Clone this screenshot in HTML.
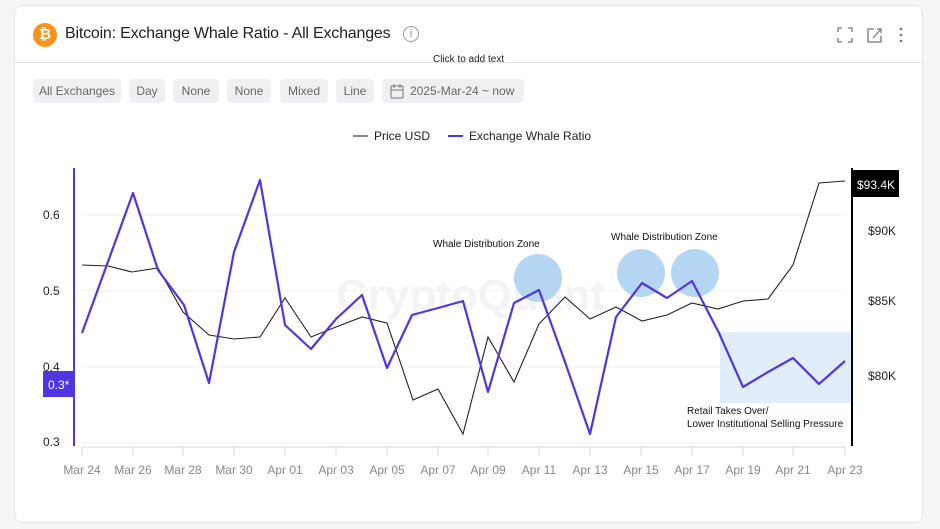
<!DOCTYPE html>
<html><head><meta charset="utf-8"><style>
body{margin:0;background:#f5f5f6;font-family:"Liberation Sans",sans-serif;}
.card{position:absolute;left:14px;top:5px;width:907px;height:516px;background:#fff;border:1px solid #e4e4e8;border-radius:8px;}
.btn{position:absolute;top:79px;height:24px;background:#f0f0f2;border-radius:4px;font-size:12px;color:#666;line-height:24px;text-align:center}
</style></head><body>
<div class="card"></div>
<div style="position:absolute;left:33px;top:23px;width:24px;height:24px;border-radius:50%;background:#f7931a;color:#fff;font-weight:bold;font-size:15px;text-align:center;line-height:24px">₿</div>
<div style="position:absolute;left:65px;top:25px;font-size:16px;color:#222;font-weight:500;letter-spacing:-0.2px">Bitcoin: Exchange Whale Ratio - All Exchanges</div>
<div style="position:absolute;left:403px;top:26px;width:14px;height:14px;border:1px solid #999;border-radius:50%;font-size:11px;color:#888;text-align:center;line-height:14px">i</div>
<div style="position:absolute;left:433px;top:54px;font-size:10px;color:#222">Click to add text</div>
<div style="position:absolute;left:15px;top:62px;width:906px;height:1px;background:#e4e4e8"></div>
<svg style="position:absolute;left:836px;top:26px" width="75" height="18"><path d="M2 6V2h4M12 2h4v4M16 12v4h-4M6 16H2v-4" stroke="#777" fill="none" stroke-width="1.3"/><path d="M38 3h-6v13h13v-6M37 12l8-9M41 3h4v4" stroke="#777" fill="none" stroke-width="1.3"/><circle cx="65" cy="3" r="1.3" fill="#777"/><circle cx="65" cy="9" r="1.3" fill="#777"/><circle cx="65" cy="15" r="1.3" fill="#777"/></svg>
<div class="btn" style="left:33px;width:88px">All Exchanges</div>
<div class="btn" style="left:129px;width:36px">Day</div>
<div class="btn" style="left:173px;width:46px">None</div>
<div class="btn" style="left:227px;width:44px">None</div>
<div class="btn" style="left:280px;width:48px">Mixed</div>
<div class="btn" style="left:336px;width:38px">Line</div>
<div class="btn" style="left:382px;width:142px;text-align:left"><span style="margin-left:28px">2025-Mar-24 ~ now</span></div>
<svg style="position:absolute;left:390px;top:83px" width="14" height="16"><rect x="1" y="3" width="12" height="12" rx="1" stroke="#777" fill="none"/><path d="M1 7h12M4 1v4M10 1v4" stroke="#777"/></svg>
<svg style="position:absolute;left:0;top:0" width="940" height="529" font-family="Liberation Sans, sans-serif">
<line x1="353" y1="136" x2="368" y2="136" stroke="#888" stroke-width="2"/><text x="374" y="140" font-size="12" fill="#222">Price USD</text>
<line x1="448" y1="136" x2="463" y2="136" stroke="#4f35e3" stroke-width="2"/><text x="469" y="140" font-size="12" fill="#222">Exchange Whale Ratio</text>
<g stroke="#f0f0f2"><line x1="82" y1="215" x2="845" y2="215"/><line x1="82" y1="291" x2="845" y2="291"/><line x1="82" y1="367" x2="845" y2="367"/><line x1="82" y1="443" x2="845" y2="443"/></g>
<text x="336" y="310" font-size="44" fill="#f3f3f6" font-weight="bold">CryptoQuant</text>
<rect x="720" y="332" width="132" height="71" fill="#e1edfb"/>
<g fill="#b5d6f3"><circle cx="538" cy="278" r="24"/><circle cx="641" cy="273" r="24"/><circle cx="695" cy="273" r="24"/></g>
<g font-size="10" fill="#111"><text x="433" y="247">Whale Distribution Zone</text><text x="611" y="240">Whale Distribution Zone</text><text x="687" y="414">Retail Takes Over/</text><text x="687" y="427">Lower Institutional Selling Pressure</text></g>
<polyline fill="none" stroke="#222" stroke-width="1.1" points="82,265 108,266 132,272 158,268 183,312 209,335 234,339 260,337 285,298 311,337 336,327 362,317 387,323 413,400 438,389 463,434 488,337 514,382 539,324 565,297 590,319 616,307 642,321 667,315 692,303 718,309 743,301 768,299 793,265 819,183 845,181"/>
<polyline fill="none" stroke="#4f35e3" stroke-width="2.2" stroke-linejoin="round" points="82,333 133,193 158,270 184,305 209,383 234,252 260,180 285,325 311,349 336,319 362,295 387,368 412,315 438,308 463,301 488,392 514,303 539,290 565,362 590,434 616,317 642,283 667,298 692,281 719,333 743,387 768,372 793,358 819,384 845,361"/>
<line x1="74" y1="168" x2="74" y2="446" stroke="#4f35e3" stroke-width="2"/>
<rect x="43" y="371" width="31" height="26" fill="#4f35e3"/><text x="48" y="389" font-size="12" fill="#fff">0.3*</text>
<line x1="852" y1="168" x2="852" y2="446" stroke="#000" stroke-width="2"/>
<rect x="853" y="170" width="46" height="27" fill="#000"/><text x="857" y="189" font-size="12" fill="#fff">$93.4K</text>
<g font-size="12" fill="#222"><text x="43" y="219">0.6</text><text x="43" y="295">0.5</text><text x="43" y="371">0.4</text><text x="43" y="446">0.3</text>
<text x="868" y="235">$90K</text><text x="868" y="305">$85K</text><text x="868" y="380">$80K</text></g>
<line x1="82" y1="447" x2="845" y2="447" stroke="#d8d8e0"/>
<g stroke="#d8d8e0"><line x1="82" y1="447" x2="82" y2="456"/><line x1="133" y1="447" x2="133" y2="456"/><line x1="183" y1="447" x2="183" y2="456"/><line x1="234" y1="447" x2="234" y2="456"/><line x1="285" y1="447" x2="285" y2="456"/><line x1="336" y1="447" x2="336" y2="456"/><line x1="387" y1="447" x2="387" y2="456"/><line x1="438" y1="447" x2="438" y2="456"/><line x1="488" y1="447" x2="488" y2="456"/><line x1="539" y1="447" x2="539" y2="456"/><line x1="590" y1="447" x2="590" y2="456"/><line x1="641" y1="447" x2="641" y2="456"/><line x1="692" y1="447" x2="692" y2="456"/><line x1="743" y1="447" x2="743" y2="456"/><line x1="793" y1="447" x2="793" y2="456"/><line x1="845" y1="447" x2="845" y2="456"/></g>
<g font-size="12" fill="#888" text-anchor="middle"><text x="82" y="474">Mar 24</text><text x="133" y="474">Mar 26</text><text x="183" y="474">Mar 28</text><text x="234" y="474">Mar 30</text><text x="285" y="474">Apr 01</text><text x="336" y="474">Apr 03</text><text x="387" y="474">Apr 05</text><text x="438" y="474">Apr 07</text><text x="488" y="474">Apr 09</text><text x="539" y="474">Apr 11</text><text x="590" y="474">Apr 13</text><text x="641" y="474">Apr 15</text><text x="692" y="474">Apr 17</text><text x="743" y="474">Apr 19</text><text x="793" y="474">Apr 21</text><text x="845" y="474">Apr 23</text></g>
</svg>
</body></html>
